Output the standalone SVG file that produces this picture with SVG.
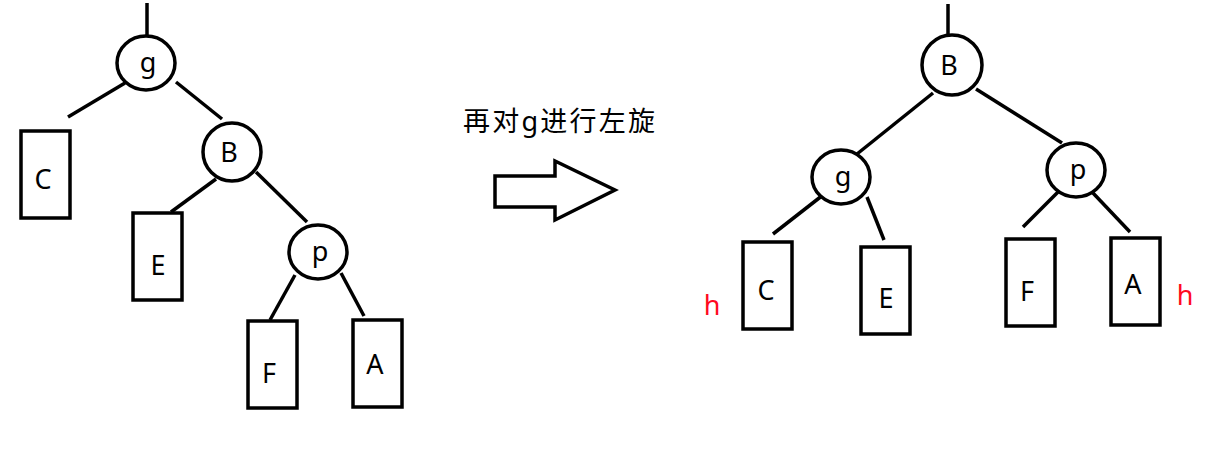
<svg xmlns="http://www.w3.org/2000/svg" width="1222" height="457" viewBox="0 0 1222 457">
<style>
.n{fill:#fff;stroke:#000;stroke-width:3.5}
.r{fill:#fff;stroke:#000;stroke-width:3.5}
.e{stroke:#000;stroke-width:3.5;fill:none;stroke-linecap:butt}
.t{font-family:"Noto Sans","Open Sans",sans-serif;font-size:27px;fill:#000;text-anchor:middle;dominant-baseline:central}
.h{font-family:"Noto Sans","Open Sans",sans-serif;font-size:27px;fill:#ff0a1e;text-anchor:middle;dominant-baseline:central}
.c{font-family:"Noto Sans","Noto Sans CJK SC",sans-serif;font-size:27px;fill:#000}
</style>
<rect width="1222" height="457" fill="#fff"/>
<g id="connectors">
<line class="e" x1="147" y1="3" x2="147" y2="36"/>
<line class="e" x1="125" y1="83" x2="68" y2="117"/>
<line class="e" x1="176" y1="82" x2="222" y2="119"/>
<line class="e" x1="216" y1="179" x2="171" y2="212"/>
<line class="e" x1="256" y1="172" x2="307" y2="222"/>
<line class="e" x1="295" y1="275" x2="270" y2="320"/>
<line class="e" x1="341" y1="273" x2="364" y2="316"/>
<line class="e" x1="948" y1="4" x2="948" y2="35"/>
<line class="e" x1="933" y1="93" x2="857" y2="154"/>
<line class="e" x1="976" y1="89" x2="1062" y2="143"/>
<line class="e" x1="823" y1="195" x2="773" y2="234"/>
<line class="e" x1="867" y1="197" x2="884" y2="240"/>
<line class="e" x1="1058" y1="192" x2="1023" y2="227"/>
<line class="e" x1="1093" y1="193" x2="1130" y2="232"/>
</g>
<g id="left-g"><ellipse class="n" cx="146" cy="63" rx="29" ry="27"/><text class="t" x="148" y="61">g</text></g>
<g id="left-C"><rect class="r" x="21" y="131" width="49" height="87"/><text class="t" x="43" y="178">C</text></g>
<g id="left-B"><ellipse class="n" cx="232" cy="152" rx="29" ry="29"/><text class="t" x="229" y="151">B</text></g>
<g id="left-E"><rect class="r" x="133" y="213" width="49" height="87"/><text class="t" x="158" y="264">E</text></g>
<g id="left-p"><ellipse class="n" cx="318" cy="252" rx="29" ry="27"/><text class="t" x="320" y="250">p</text></g>
<g id="left-F"><rect class="r" x="248" y="321" width="49" height="87"/><text class="t" x="269" y="372">F</text></g>
<g id="left-A"><rect class="r" x="353" y="320" width="49" height="87"/><text class="t" x="375" y="363">A</text></g>
<g id="label"><text class="c" x="463" y="131" textLength="192" lengthAdjust="spacing">再对g进行左旋</text></g>
<g id="arrow"><polygon points="495,176 555,176 555,161 615,190 555,220 555,207 495,207" fill="#fff" stroke="#000" stroke-width="3.5" stroke-linejoin="miter"/></g>
<g id="right-B"><ellipse class="n" cx="952" cy="65" rx="30" ry="30"/><text class="t" x="949" y="64">B</text></g>
<g id="right-g"><ellipse class="n" cx="841" cy="177" rx="29" ry="27"/><text class="t" x="843" y="175">g</text></g>
<g id="right-p"><ellipse class="n" cx="1076" cy="170" rx="29" ry="27"/><text class="t" x="1078" y="168">p</text></g>
<g id="right-C"><rect class="r" x="743" y="242" width="49" height="87"/><text class="t" x="766" y="289">C</text></g>
<g id="right-E"><rect class="r" x="861" y="247" width="49" height="87"/><text class="t" x="886" y="297">E</text></g>
<g id="right-F"><rect class="r" x="1006" y="239" width="49" height="87"/><text class="t" x="1027" y="290">F</text></g>
<g id="right-A"><rect class="r" x="1111" y="238" width="49" height="87"/><text class="t" x="1133" y="283">A</text></g>
<g id="h-left"><text class="h" x="712" y="304">h</text></g>
<g id="h-right"><text class="h" x="1185" y="294">h</text></g>
</svg>
